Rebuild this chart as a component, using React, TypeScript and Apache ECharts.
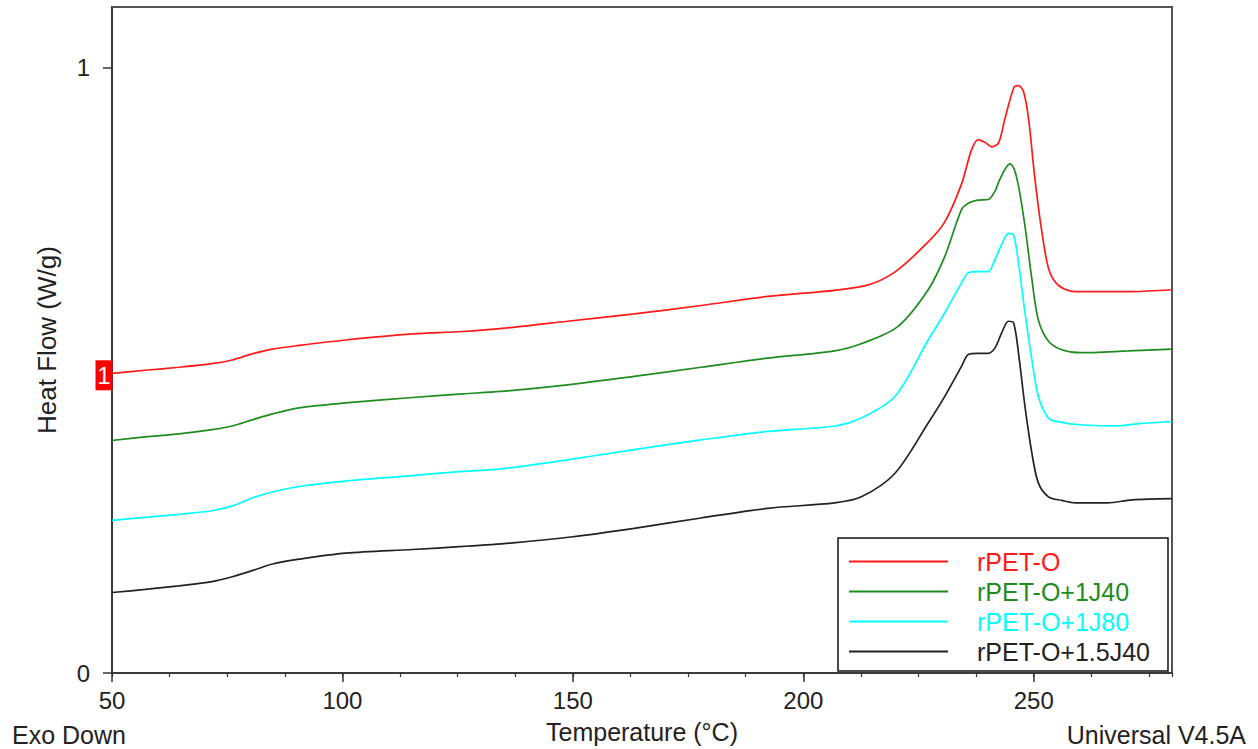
import React, { useEffect, useRef } from "react";
import * as echarts from "echarts";

const seriesNames = ["rPET-O", "rPET-O+1J40", "rPET-O+1J80", "rPET-O+1.5J40"];
const seriesColors = ["#ff1a1a", "#1e8c1e", "#00ffff", "#222222"];

const redT = [50, 57.2, 64.5, 71.7, 76.1, 80.4, 84.8, 90.6, 100.7, 115.2, 126.1, 137, 148.8, 163.3, 177.8, 192.3, 206.8, 214.1, 220, 227.1, 230.7, 234.3, 236.5, 238, 239.5, 240.9, 242.4, 243.7, 245.7, 246.7, 247.8, 248.9, 250.2, 251.7, 253.3, 255.4, 258.9, 271.3, 280];
const redV = [0.495, 0.5, 0.505, 0.511, 0.517, 0.527, 0.535, 0.541, 0.55, 0.56, 0.564, 0.571, 0.581, 0.593, 0.607, 0.622, 0.632, 0.641, 0.663, 0.712, 0.745, 0.807, 0.864, 0.881, 0.876, 0.869, 0.876, 0.914, 0.967, 0.97, 0.96, 0.914, 0.82, 0.732, 0.666, 0.64, 0.63, 0.63, 0.633];

const greenT = [50, 57.2, 64.5, 71.7, 76.1, 80.4, 84.8, 90.6, 100.7, 115.2, 126.1, 134.3, 148.8, 163.3, 177.8, 192.3, 206.8, 213, 220.5, 227.1, 230.7, 234.3, 235.8, 237.9, 240.1, 241.6, 242.5, 244, 244.9, 245.8, 246.7, 248.1, 249.6, 251, 253.2, 256.1, 260, 270.6, 280];
const greenV = [0.384, 0.39, 0.395, 0.402, 0.408, 0.418, 0.428, 0.438, 0.446, 0.455, 0.461, 0.465, 0.476, 0.49, 0.505, 0.52, 0.532, 0.545, 0.572, 0.633, 0.688, 0.765, 0.776, 0.781, 0.782, 0.796, 0.813, 0.835, 0.841, 0.831, 0.804, 0.738, 0.65, 0.583, 0.548, 0.534, 0.529, 0.532, 0.535];

const cyanT = [50, 57.2, 64.5, 71.7, 76.1, 80.4, 84.8, 90.6, 100.7, 115.2, 126.1, 134.3, 148.8, 163.3, 177.8, 192.3, 206.8, 212.6, 219.9, 227.1, 230.7, 234.3, 235.8, 237.9, 240.1, 241.6, 243, 244.5, 245.6, 246.7, 248.1, 249.6, 251, 253.2, 256.1, 260, 268, 272.8, 280];
const cyanV = [0.252, 0.257, 0.262, 0.268, 0.276, 0.289, 0.299, 0.308, 0.317, 0.326, 0.333, 0.337, 0.352, 0.369, 0.385, 0.399, 0.408, 0.421, 0.457, 0.55, 0.595, 0.644, 0.661, 0.663, 0.663, 0.683, 0.707, 0.726, 0.724, 0.677, 0.595, 0.517, 0.457, 0.421, 0.414, 0.41, 0.408, 0.412, 0.415];

const blackT = [50, 57.2, 64.5, 71.7, 76.1, 80.4, 84.8, 90.6, 100.7, 115.2, 126.1, 137, 150, 163.3, 177.8, 192.3, 206.8, 212.6, 219.9, 227.1, 230.7, 234.3, 235.8, 237.9, 240.1, 241.6, 243, 244.5, 245.6, 246.7, 248.1, 249.6, 251, 253.2, 256.1, 259, 266, 271.3, 280];
const blackV = [0.133, 0.138, 0.144, 0.151, 0.159, 0.169, 0.18, 0.188, 0.198, 0.204, 0.209, 0.215, 0.225, 0.239, 0.256, 0.272, 0.281, 0.291, 0.33, 0.413, 0.457, 0.506, 0.526, 0.528, 0.528, 0.537, 0.561, 0.581, 0.579, 0.528, 0.44, 0.363, 0.314, 0.291, 0.285, 0.281, 0.281, 0.286, 0.288];

const xMajorTicks = [50, 100, 150, 200, 250];
const yTicks = [0, 1];
const signalMarkerLabel = "1";

const FONT = "Arial, 'Liberation Sans', sans-serif";

function zip(t: number[], v: number[]) {
  return t.map((x, i) => [x, v[i]]);
}

export default function App() {
  const ref = useRef<HTMLDivElement>(null);
  useEffect(() => {
    if (!ref.current) return;
    const chart = echarts.init(ref.current, undefined, { renderer: "svg" });
    const allT = [redT, greenT, cyanT, blackT];
    const allV = [redV, greenV, cyanV, blackV];
    const series: any[] = seriesNames.map((name, i) => ({
      name,
      type: "line",
      data: zip(allT[i], allV[i]),
      showSymbol: false,
      smooth: 0.3,
      lineStyle: { color: seriesColors[i], width: 1.7 },
      itemStyle: { color: seriesColors[i] },
      z: 3,
    }));
    series[0].markPoint = {
      silent: true,
      data: [
        {
          coord: [redT[0], redV[0]],
          symbol: "rect",
          symbolSize: [17, 30],
          symbolOffset: [-8, 2],
          itemStyle: { color: "#ff0000" },
          label: {
            show: true,
            position: "inside",
            formatter: signalMarkerLabel,
            color: "#ffffff",
            fontSize: 24,
            fontFamily: FONT,
          },
        },
      ],
    };
    chart.setOption({
      animation: false,
      backgroundColor: "#ffffff",
      grid: {
        left: 112,
        right: 86,
        top: 7,
        bottom: 76,
        show: true,
        borderColor: "#555555",
        borderWidth: 2,
        backgroundColor: "transparent",
      },
      xAxis: [
        {
          type: "value",
          min: 50,
          max: 280,
          interval: 50,
          name: "Temperature (°C)",
          nameLocation: "middle",
          nameGap: 46,
          nameTextStyle: { fontSize: 25, color: "#222", fontFamily: FONT },
          axisLine: { show: true, lineStyle: { color: "#333", width: 1.5 } },
          axisTick: { show: true, length: 9, customValues: xMajorTicks, lineStyle: { color: "#333", width: 1.5 } },
          axisLabel: {
            customValues: xMajorTicks,
            margin: 15,
            fontSize: 24,
            color: "#222",
            fontFamily: FONT,
            formatter: (v: number) => (xMajorTicks.indexOf(v) >= 0 ? String(v) : ""),
          },
          splitLine: { show: false },
        },
        {
          type: "value",
          position: "bottom",
          min: 50,
          max: 280,
          interval: 12.5,
          axisLine: { show: false },
          axisTick: { show: true, length: 4, lineStyle: { color: "#333", width: 1.2 } },
          axisLabel: { show: false },
          splitLine: { show: false },
        },
      ],
      yAxis: {
        type: "value",
        min: 0,
        max: 1.1,
        interval: 1,
        name: "Heat Flow (W/g)",
        nameLocation: "middle",
        nameGap: 52,
        nameTextStyle: { fontSize: 26, color: "#222", fontFamily: FONT },
        axisLine: { show: true, lineStyle: { color: "#333", width: 1.5 } },
        axisTick: { show: true, length: 9, customValues: yTicks, lineStyle: { color: "#333", width: 1.5 } },
        axisLabel: {
          customValues: yTicks,
          margin: 22,
          fontSize: 24,
          color: "#222",
          fontFamily: FONT,
          formatter: (v: number) => (yTicks.indexOf(v) >= 0 ? String(v) : ""),
        },
        splitLine: { show: false },
      },
      legend: {
        orient: "vertical",
        left: 849,
        top: 549,
        padding: 0,
        icon: "rect",
        itemWidth: 99,
        itemHeight: 2,
        itemGap: 5,
        data: seriesNames.map((n, i) => ({
          name: n,
          textStyle: { color: seriesColors[i] },
        })),
        textStyle: {
          fontSize: 25,
          lineHeight: 25,
          fontFamily: FONT,
          padding: [0, 0, 0, 24],
        },
        selectedMode: false,
        z: 10,
      },
      graphic: [
        {
          type: "rect",
          shape: { x: 838, y: 538, width: 330, height: 133 },
          style: { fill: "#ffffff", stroke: "#111", lineWidth: 1.5 },
          z: 5,
        },
        {
          type: "text",
          left: 12,
          top: 722,
          style: { text: "Exo Down", fontSize: 25, fill: "#222", fontFamily: FONT },
        },
        {
          type: "text",
          right: 12,
          top: 722,
          style: { text: "Universal V4.5A", fontSize: 25, fill: "#222", fontFamily: FONT },
        },
      ],
      series,
    });
    return () => chart.dispose();
  }, []);
  return <div ref={ref} style={{ width: 1258, height: 749, position: "absolute", left: 0, top: 0 }} />;
}
